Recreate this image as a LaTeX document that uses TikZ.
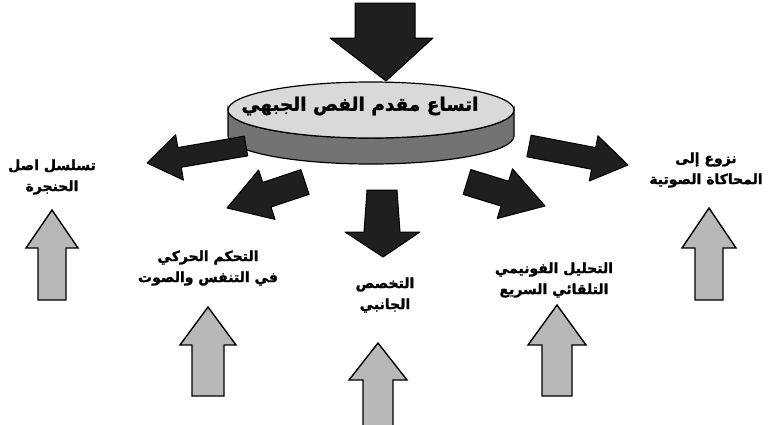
\documentclass[tikz,border=0pt]{standalone}
\usepackage{fontspec}
\newfontfamily\arabicfont[Script=Arabic, BoldFeatures={FakeBold=1.5}]{DejaVu Sans}
\TeXXeTstate=1
\usetikzlibrary{calc}
\tikzset{
  darkarrow/.style={fill=black!88, draw=black, line width=1pt, line join=round},
  lightarrow/.style={fill=black!28, draw=black, line width=1.4pt, line join=miter},
  disktop/.style={fill=black!15, draw=black, line width=1.2pt},
  diskside/.style={fill=black!55, draw=black, line width=1.2pt},
  lbl/.style={font=\arabicfont\bfseries\fontsize{14}{21}\selectfont, align=center, inner sep=0pt},
}
\newcommand{\uparr}[6]{%
  \draw[lightarrow] ({#1-#5},#6) -- ({#1-#5},#3) -- ({#1-#4},#3) -- (#1,#2) -- ({#1+#4},#3) -- ({#1+#5},#3) -- ({#1+#5},#6) -- cycle;}
\newcommand{\fatarrow}[5]{% start, end, shaft half, head half, head length
  \coordinate (fa@h) at ($(#2)!#5pt!(#1)$);
  \draw[darkarrow] ($(#1)!#3pt!90:(#2)$) -- ($(fa@h)!#3pt!90:(#2)$) -- ($(fa@h)!#4pt!90:(#2)$) -- (#2)
    -- ($(fa@h)!#4pt!-90:(#2)$) -- ($(fa@h)!#3pt!-90:(#2)$) -- ($(#1)!#3pt!-90:(#2)$) -- cycle;}
\begin{document}
\begin{tikzpicture}[x=1pt,y=-1pt]
\useasboundingbox (0,0) rectangle (770,424);
% top arrow
\draw[darkarrow] (355,3) -- (415,3) -- (415,38) -- (433,38) -- (386,81) -- (330,38) -- (355,38) -- cycle;
% disk
\draw[diskside] (228,110) -- (228,136) arc[start angle=180, end angle=360, x radius=143pt, y radius=28pt]
  -- (514,110) arc[start angle=0, end angle=-180, x radius=143pt, y radius=28pt] -- cycle;
\draw[disktop] (371,110) ellipse [x radius=143pt, y radius=28pt];
\node[lbl, font=\arabicfont\bfseries\fontsize{18.5}{22}\selectfont] (disk) at (360,106) {\beginR اتساع مقدم الفص الجبهي\endR};
% side arrows
\coordinate (ls) at (246,146); \coordinate (le) at (147,163);
\fatarrow{ls}{le}{10}{23}{33}
\coordinate (rs) at (529,146); \coordinate (re) at (628,165);
\fatarrow{rs}{re}{11}{23}{35}
% lower diagonal arrows
\coordinate (lls) at (305,182); \coordinate (lle) at (227,208);
\fatarrow{lls}{lle}{13}{26}{42}
\coordinate (lrs) at (467,182); \coordinate (lre) at (545,206);
\fatarrow{lrs}{lre}{13}{26}{42}
% center down arrow
\draw[darkarrow] (367,190) -- (397,190) -- (400,232) -- (420,232) -- (383,257) -- (345,232) -- (364,232) -- cycle;
% up arrows
\uparr{52}{210}{248}{26}{14}{300}
\uparr{208}{307}{345}{28}{16}{396}
\uparr{378}{343}{380}{29}{15}{426}
\uparr{557}{305}{345}{29}{15}{396}
\uparr{709}{208}{248}{27}{14}{300}
% labels
\node[lbl] (larynx) at (52,177) {\beginR تسلسل اصل\endR\\\beginR الحنجرة\endR};
\node[lbl] (mimic) at (706,170) {\beginR نزوع إلى\endR\\\beginR المحاكاة الصوتية\endR};
\node[lbl] (motor) at (208,268) {\beginR التحكم الحركي\endR\\\beginR في التنفس والصوت\endR};
\node[lbl] (lateral) at (385,295) {\beginR التخصص\endR\\\beginR الجانبي\endR};
\node[lbl] (phon) at (554,280) {\beginR التحليل الفونيمي\endR\\\beginR التلقائي السريع\endR};
\end{tikzpicture}
\end{document}
